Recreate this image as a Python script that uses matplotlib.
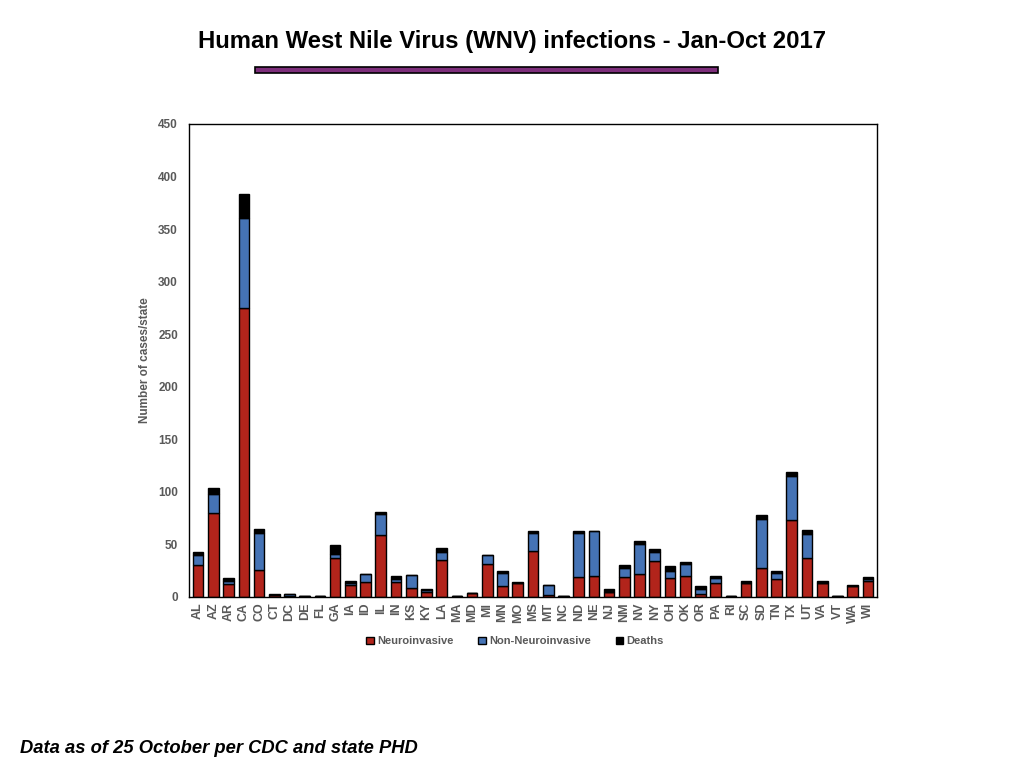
import numpy as np
import matplotlib
matplotlib.use('Agg')
import matplotlib.pyplot as plt
from matplotlib.patches import Rectangle

plt.rcParams['font.family'] = ['Liberation Sans', 'DejaVu Sans']

states = ['AL', 'AZ', 'AR', 'CA', 'CO', 'CT', 'DC', 'DE', 'FL', 'GA', 'IA', 'ID', 'IL',
          'IN', 'KS', 'KY', 'LA', 'MA', 'MD', 'MI', 'MN', 'MO', 'MS', 'MT', 'NC', 'ND',
          'NE', 'NJ', 'NM', 'NV', 'NY', 'OH', 'OK', 'OR', 'PA', 'RI', 'SC', 'SD', 'TN',
          'TX', 'UT', 'VA', 'VT', 'WA', 'WI']
neuro = [30, 80, 12, 275, 26, 2, 1, 1, 1, 37, 11, 14, 59,
         14, 9, 5, 35, 1, 4, 31, 10, 13, 44, 2, 1, 19,
         20, 5, 19, 22, 34, 18, 20, 3, 13, 1, 13, 28, 17,
         73, 37, 13, 1, 10, 15]
non_neuro = [10, 18, 3, 86, 35, 0, 2, 0, 0, 4, 2, 8, 20,
             3, 12, 2, 8, 0, 0, 9, 13, 0, 17, 9, 0, 42,
             43, 0, 9, 28, 9, 7, 11, 5, 5, 0, 0, 46, 6,
             42, 23, 0, 0, 0, 2]
deaths = [3, 6, 3, 22, 4, 1, 0, 0, 0, 8, 2, 0, 2,
          3, 0, 1, 4, 0, 0, 0, 2, 1, 2, 0, 0, 2,
          0, 3, 2, 3, 3, 4, 2, 2, 2, 0, 2, 4, 2,
          4, 4, 2, 0, 1, 2]

red = '#B2241B'
blue = '#4573B5'
gray = '#595959'

fig = plt.figure(figsize=(10.24, 7.68), dpi=100)
ax = fig.add_axes([0.1846, 0.2227, 0.6719, 0.6159])

x = np.arange(len(states))
n = np.array(neuro)
nn = np.array(non_neuro)
d = np.array(deaths)
w = 0.7
ax.bar(x, n, w, color=red, edgecolor='black', linewidth=1, label='Neuroinvasive')
ax.bar(x, nn, w, bottom=n, color=blue, edgecolor='black', linewidth=1, label='Non-Neuroinvasive')
ax.bar(x, d, w, bottom=n + nn, color='black', edgecolor='black', linewidth=1, label='Deaths')

ax.set_xlim(-0.6, len(states) - 0.4)
ax.set_ylim(0, 450)
ax.set_yticks(np.arange(0, 451, 50))
ax.set_xticks(x)
ax.set_xticklabels(states, rotation=90, fontsize=9, fontweight='bold', color=gray)
for lbl in ax.get_yticklabels():
    lbl.set_fontsize(8.5)
    lbl.set_fontweight('bold')
    lbl.set_color(gray)
ax.tick_params(axis='y', length=0, pad=8)
ax.tick_params(axis='x', length=0, pad=4)
for s in ax.spines.values():
    s.set_linewidth(1)
    s.set_color('black')
ax.set_ylabel('Number of cases/state', fontsize=8.5, fontweight='bold', color=gray, labelpad=5)

ax.legend(loc='upper center', bbox_to_anchor=(0.474, -0.062), ncol=3, frameon=False,
          handlelength=0.7, handleheight=0.7, handletextpad=0.3, columnspacing=2.2,
          prop={'size': 8, 'weight': 'bold'}, labelcolor=gray)

fig.text(0.5, 0.946, 'Human West Nile Virus (WNV) infections - Jan-Oct 2017',
         ha='center', va='center', fontsize=17.2, fontweight='bold')
fig.patches.append(Rectangle((255 / 1024, 1 - 73 / 768), 463 / 1024, 6 / 768,
                             transform=fig.transFigure, facecolor='#7D2E7B',
                             edgecolor='black', linewidth=1.2))
fig.text(0.02, 0.026, 'Data as of 25 October per CDC and state PHD',
         ha='left', va='center', fontsize=13.2, fontweight='bold', fontstyle='italic')

fig.savefig('out.png', dpi=100)
